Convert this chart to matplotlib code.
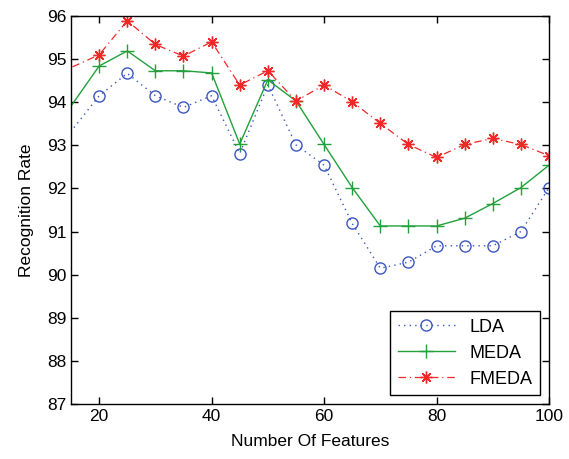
import numpy as np
import matplotlib
matplotlib.use("Agg")
import matplotlib.pyplot as plt

# data (first point at 10 lies outside the visible range)
features = [10, 20, 25, 30, 35, 40, 45, 50, 55, 60, 65, 70, 75, 80, 85, 90, 95, 100]
lda = [92.5, 94.15, 94.67, 94.15, 93.88, 94.15, 92.81, 94.40, 93.01, 92.54,
       91.19, 90.15, 90.29, 90.67, 90.67, 90.67, 91.0, 92.02]
meda = [92.98, 94.84, 95.19, 94.73, 94.73, 94.68, 93.03, 94.52, 94.03, 93.02,
        92.02, 91.13, 91.13, 91.13, 91.31, 91.65, 92.02, 92.54]
fmeda = [94.51, 95.10, 95.89, 95.34, 95.07, 95.40, 94.40, 94.73, 94.03, 94.40,
         94.01, 93.51, 93.02, 92.72, 93.02, 93.16, 93.02, 92.76]

plt.rcParams['font.family'] = ['Liberation Sans', 'DejaVu Sans']

fig = plt.figure(figsize=(5.69, 4.59), dpi=100)
ax = fig.add_axes([0.1248, 0.1198, 0.8401, 0.8453])

ax.plot(features, lda, linestyle=(0, (1, 3)), color='#3a56c0', marker='o', markersize=8,
        markerfacecolor='none', markeredgewidth=1.0, linewidth=1.0, label='LDA')
ax.plot(features, meda, linestyle='-', color='#22a03c', marker='+', markersize=10,
        markeredgewidth=1.0, linewidth=1.0, label='MEDA')
ax.plot(features, fmeda, linestyle=(0, (6, 3, 1, 3)), color='#f02828', marker=(8, 2, 0),
        markersize=8.5, markeredgewidth=1.0, linewidth=0.9, label='FMEDA')

ax.set_xlim(15, 100)
ax.set_ylim(87, 96)
ax.set_xticks([20, 40, 60, 80, 100])
ax.set_yticks(np.arange(87, 97, 1))
ax.tick_params(direction='in', top=True, right=True, labelsize=12.5, length=5, width=1)
for s in ax.spines.values():
    s.set_linewidth(1.0)

ax.set_xlabel('Number Of Features', fontsize=12.5, labelpad=7)
ax.set_ylabel('Recognition Rate', fontsize=12.5, labelpad=9)

leg = ax.legend(loc='lower right', fontsize=13, fancybox=False, edgecolor='black',
                framealpha=1, borderaxespad=0.5, handlelength=3.2)
leg.get_frame().set_linewidth(1.0)

fig.savefig('out.png', dpi=100)
